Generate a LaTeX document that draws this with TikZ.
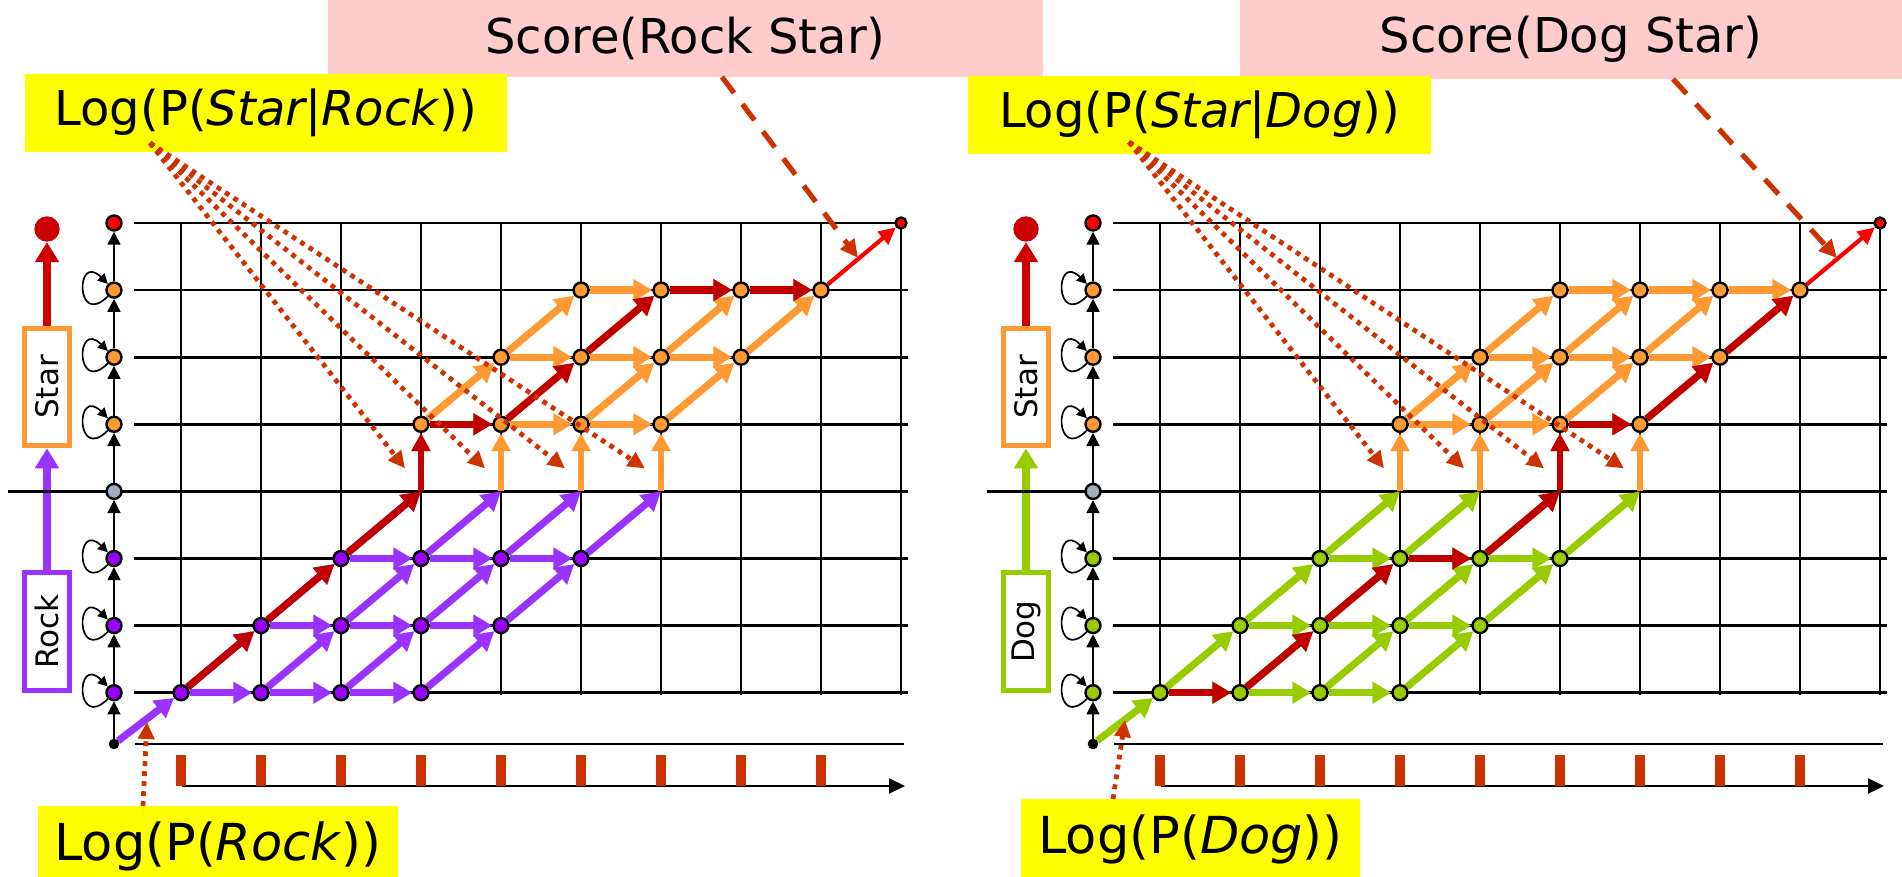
\documentclass[tikz,border=0pt]{standalone}
\usepackage{fontspec}
\setmainfont{DejaVu Sans}
\usetikzlibrary{arrows.meta, backgrounds, calc}
\definecolor{pathRed}{RGB}{192,0,0}
\definecolor{bestRed}{RGB}{255,0,0}
\definecolor{wordRed}{RGB}{204,0,0}
\definecolor{rockPurple}{RGB}{153,51,255}
\definecolor{rockFill}{RGB}{153,0,255}
\definecolor{dogGreen}{RGB}{153,204,0}
\definecolor{starOrange}{RGB}{255,153,51}
\definecolor{hintRust}{RGB}{204,51,0}
\definecolor{scorePink}{RGB}{255,204,204}
\definecolor{probYellow}{RGB}{255,255,0}
\definecolor{boundGrey}{RGB}{160,174,190}
\tikzset{
  gridLine/.style={line width=1.4pt, draw=black},
  latticeNode/.style={circle, draw=black, line width=1.2pt, minimum size=7.5pt, inner sep=0pt},
  latticeFlow/.style={line width=3.6pt, -{Triangle[length=9.5pt,width=10.5pt]}},
  entryFlow/.style={line width=2.7pt, -{Triangle[length=9pt,width=9pt]}},
  finalFlow/.style={line width=2.1pt, bestRed, -{Triangle[length=8.5pt,width=8pt]}},
  chainFlow/.style={line width=0.8pt, -{Triangle[length=6.5pt,width=6.5pt]}},
  selfLoop/.style={line width=0.85pt, -{Triangle[length=5pt,width=5pt]}},
  wordBox/.style={draw, line width=2.5pt, fill=white, minimum width=22.8pt, minimum height=58.8pt, inner sep=0pt, font=\fontsize{15.5}{18}\selectfont},
  wordFlow/.style={line width=3.8pt, -{Triangle[length=10pt,width=11.5pt]}},
  scoreBox/.style={fill=scorePink, inner sep=0pt, font=\fontsize{24}{28}\selectfont},
  probBox/.style={fill=probYellow, inner sep=0pt, font=\fontsize{24}{28}\selectfont},
  hintDotted/.style={draw=hintRust, line width=2.4pt, dash pattern=on 2.4pt off 2.6pt, -{Triangle[length=8.5pt,width=8pt]}},
  hintDashed/.style={draw=hintRust, line width=2.6pt, dash pattern=on 10pt off 7pt, -{Triangle[length=9pt,width=8.5pt]}}
}

\begin{document}
\begin{tikzpicture}[x=0.5pt, y=-0.5pt]
  \useasboundingbox (0,0) rectangle (1902,877);

  \foreach \p/\dx/\wc/\wf/\word in {L/0/rockPurple/rockFill/Rock, R/979/dogGreen/dogGreen/Dog} {
    % trellis states
    \foreach \r in {0,1,2} \foreach \k in {0,...,3} {
      \pgfmathtruncatemacro\c{\r+\k}
      \node[latticeNode, fill=\wf] (\p-\c-\r) at (\dx+181+80*\c, 692.7-67.1*\r) {};
    }
    \foreach \c in {3,...,6} \coordinate (\p-\c-3) at (\dx+181+80*\c, 491.4);
    \foreach \r in {4,5,6} \foreach \k in {0,...,3} {
      \pgfmathtruncatemacro\c{\r-1+\k}
      \node[latticeNode, fill=starOrange] (\p-\c-\r) at (\dx+181+80*\c, 692.7-67.1*\r) {};
    }
    \node[latticeNode, fill=bestRed, minimum size=5.5pt] (\p-9-7) at (\dx+901, 223) {};

    % model column
    \node[latticeNode, fill=black, minimum size=4pt] (\p-start) at (\dx+114, 744) {};
    \foreach \r/\fc in {0/\wf, 1/\wf, 2/\wf, 3/boundGrey, 4/starOrange, 5/starOrange, 6/starOrange, 7/bestRed}
      \node[latticeNode, fill=\fc] (\p-s\r) at (\dx+114, 692.7-67.1*\r) {};
    \draw[chainFlow] (\p-start) -- (\p-s0);
    \foreach \r [evaluate=\r as \n using int(\r+1)] in {0,...,6}
      \draw[chainFlow] (\p-s\r) -- (\p-s\n);
    \foreach \r in {0,1,2,4,5,6}
      \draw[selfLoop] (\p-s\r.225) .. controls +(225:23pt) and +(135:23pt) .. (\p-s\r.135);

    % word boxes
    \node[wordBox, draw=\wc] (\p-first) at (\dx+47, 631.7) {\rotatebox{90}{\word}};
    \node[wordBox, draw=starOrange] (\p-second) at (\dx+47, 387) {\rotatebox{90}{Star}};
    \node[circle, fill=wordRed, minimum size=12.7pt, inner sep=0pt] (\p-end) at (\dx+47, 229) {};
    \draw[wordFlow, wordRed] (\p-second) -- (\p-end);

    % time axis
    \draw[gridLine] (\dx+135, 744) -- (\dx+904, 744);
    \draw[line width=1.1pt, -{Triangle[length=8pt,width=7.5pt]}] (\dx+182, 786) -- (\dx+905, 786);
    \foreach \c in {0,...,8} \fill[hintRust] (\dx+176+80*\c, 755) rectangle ++(10, 31);

    \begin{scope}[on background layer]
      \draw[wordFlow, color=\wc] (\p-first) -- (\p-second);
      \foreach \r in {0,1,2,4,5,6} \draw[gridLine] (\dx+134, 692.7-67.1*\r) -- (\dx+908, 692.7-67.1*\r);
      \draw[gridLine] (\dx+8, 491.4) -- (\dx+908, 491.4);
      \draw[gridLine] (\dx+134, 223) -- (\dx+901, 223);
      \foreach \c in {0,...,9} \draw[gridLine] (\dx+181+80*\c, 223) -- (\dx+181+80*\c, 695);

      % word one: stay and advance
      \draw[latticeFlow, color=\wc] (\p-start) -- (\p-0-0);
      \foreach \r in {0,1,2} \foreach \k in {0,...,3} {
        \pgfmathtruncatemacro\c{\r+\k}
        \pgfmathtruncatemacro\cn{\c+1}
        \pgfmathtruncatemacro\rn{\r+1}
        \ifnum\k<3 \draw[latticeFlow, color=\wc] (\p-\c-\r) -- (\p-\cn-\r); \fi
        \draw[latticeFlow, color=\wc] (\p-\c-\r) -- (\p-\cn-\rn);
      }
      \foreach \c in {3,...,6} \draw[entryFlow, starOrange] (\p-\c-3) -- (\p-\c-4);
      % word two
      \foreach \r in {4,5,6} \foreach \k in {0,...,3} {
        \pgfmathtruncatemacro\c{\r-1+\k}
        \pgfmathtruncatemacro\cn{\c+1}
        \pgfmathtruncatemacro\rn{\r+1}
        \ifnum\k<3 \draw[latticeFlow, starOrange] (\p-\c-\r) -- (\p-\cn-\r); \fi
        \ifnum\r<6 \draw[latticeFlow, starOrange] (\p-\c-\r) -- (\p-\cn-\rn); \fi
      }
      \draw[finalFlow] (\p-8-6) -- (\p-9-7);
    \end{scope}
  }

  % best paths
  \begin{scope}[on background layer]
    \foreach \a/\b in {L-0-0/L-1-1, L-1-1/L-2-2, L-2-2/L-3-3, L-3-4/L-4-4, L-4-4/L-5-5, L-5-5/L-6-6, L-6-6/L-7-6, L-7-6/L-8-6,
                       R-0-0/R-1-0, R-1-0/R-2-1, R-2-1/R-3-2, R-3-2/R-4-2, R-4-2/R-5-3, R-5-4/R-6-4, R-6-4/R-7-5, R-7-5/R-8-6}
      \draw[latticeFlow, pathRed] (\a) -- (\b);
    \draw[entryFlow, pathRed] (L-3-3) -- (L-3-4);
    \draw[entryFlow, pathRed] (R-5-3) -- (R-5-4);
  \end{scope}

  % labels
  \node[scoreBox, minimum width=357.5pt, minimum height=38.5pt] (L-score) at (685.5, 38.5) {Score(Rock Star)};
  \node[scoreBox, minimum width=331pt, minimum height=39.5pt] (R-score) at (1571, 39.5) {Score(Dog Star)};
  \node[probBox, minimum width=241pt, minimum height=39pt] (L-cond) at (266, 113) {Log(P(\textit{Star|Rock}))};
  \node[probBox, minimum width=231.5pt, minimum height=39pt] (R-cond) at (1199.5, 115) {Log(P(\textit{Star|Dog}))};
  \node[probBox, font=\fontsize{25.5}{30}\selectfont, minimum width=180pt, minimum height=40.5pt] (L-prior) at (218, 846.5) {Log(P(\textit{Rock}))};
  \node[probBox, font=\fontsize{25.5}{30}\selectfont, minimum width=169.5pt, minimum height=40pt] (R-prior) at (1190.5, 839) {Log(P(\textit{Dog}))};

  \coordinate (L-fan) at (150, 143);
  \coordinate (R-fan) at (1129, 142);
  \foreach \p in {L, R} \foreach \c in {3,...,6} {
    \coordinate (\p-hint\c) at ($(\p-\c-3)+(-16,-23)$);
    \draw[hintDotted] (\p-fan) -- (\p-hint\c);
  }
  \coordinate (L-priorTail) at (143, 806);
  \coordinate (L-priorTip) at (147, 722);
  \coordinate (R-priorTail) at (1113, 799);
  \coordinate (R-priorTip) at (1125, 720);
  \draw[hintDotted] (L-priorTail) -- (L-priorTip);
  \draw[hintDotted] (R-priorTail) -- (R-priorTip);

  \coordinate (L-scoreTail) at (722, 77);
  \coordinate (L-scoreTip) at (858, 258);
  \coordinate (R-scoreTail) at (1673, 79);
  \coordinate (R-scoreTip) at (1837, 258);
  \draw[hintDashed] (L-scoreTail) -- (L-scoreTip);
  \draw[hintDashed] (R-scoreTail) -- (R-scoreTip);
\end{tikzpicture}
\end{document}
